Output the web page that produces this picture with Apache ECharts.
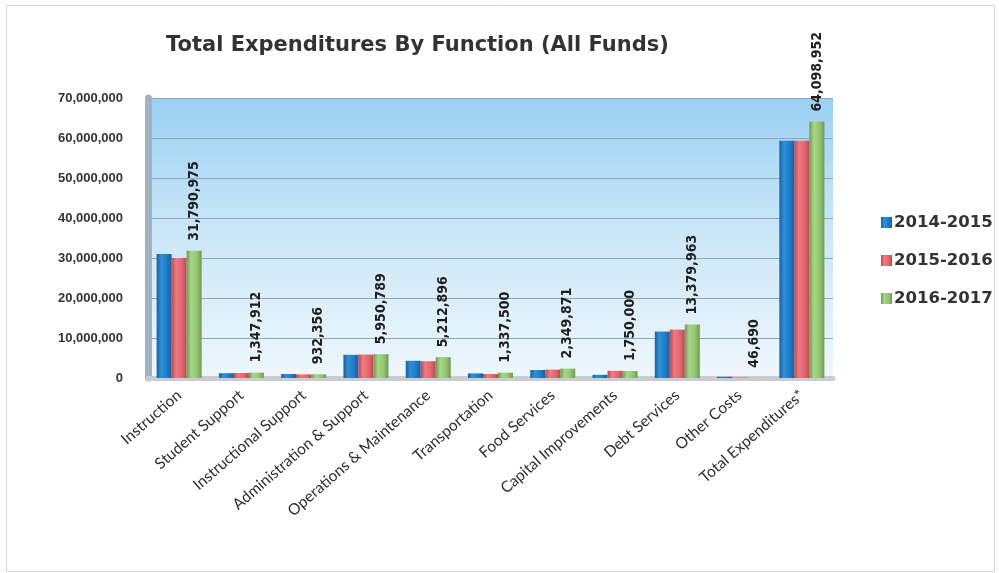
<!DOCTYPE html>
<html>
<head>
<meta charset="utf-8">
<script src="https://cdn.jsdelivr.net/npm/echarts@6/dist/echarts.min.js"></script>
<style>
  html, body { margin: 0; padding: 0; background: #ffffff; }
  #chart { width: 999px; height: 573px; }
</style>
</head>
<body>
<div id="chart"></div>
<script>
// Expenditure categories (x axis)
const categories = [
  'Instruction', 'Student Support', 'Instructional Support',
  'Administration & Support', 'Operations & Maintenance', 'Transportation',
  'Food Services', 'Capital Improvements', 'Debt Services', 'Other Costs',
  'Total Expenditures*'
];

// Spending per fiscal year
const fy2014 = [31000000, 1200000, 1000000, 5800000, 4300000, 1150000, 2000000, 800000, 11600000, 300000, 59300000];
const fy2015 = [30000000, 1250000, 900000, 5850000, 4200000, 1000000, 2100000, 1800000, 12100000, 120000, 59300000];
const fy2016 = [31790975, 1347912, 932356, 5950789, 5212896, 1337500, 2349871, 1750000, 13379963, 46690, 64098952];

const seriesNames = ['2014-2015', '2015-2016', '2016-2017'];
const yTicks = [0, 10000000, 20000000, 30000000, 40000000, 50000000, 60000000, 70000000];

const fmt = v => Number(v).toLocaleString('en-US');

// cylinder-like shading across each bar
function shade(light, mid, dark) {
  return new echarts.graphic.LinearGradient(0, 0, 1, 0, [
    { offset: 0, color: dark },
    { offset: 0.3, color: light },
    { offset: 0.7, color: mid },
    { offset: 1, color: dark }
  ]);
}

const chart = echarts.init(document.getElementById('chart'), null, { renderer: 'canvas' });

const barBase = {
  type: 'bar',
  barWidth: 15,
  barGap: '0%',
  barCategoryGap: '28%'
};

chart.setOption({
  animation: false,
  title: {
    text: 'Total Expenditures By Function (All Funds)',
    left: 161,
    top: 30,
    textStyle: {
      fontFamily: 'DejaVu Sans',
      fontWeight: 'bold',
      fontSize: 21,
      color: '#333333'
    }
  },
  legend: {
    orient: 'vertical',
    left: 876,
    top: 209,
    itemGap: 21,
    itemWidth: 11,
    itemHeight: 11,
    icon: 'rect',
    textStyle: {
      fontFamily: 'DejaVu Sans',
      fontWeight: 'bold',
      fontSize: 16.5,
      color: '#333333',
      padding: [0, 0, 0, -3]
    },
    data: seriesNames
  },
  graphic: [
    {
      type: 'rect',
      left: 4, top: 3,
      shape: { width: 988, height: 566 },
      style: { fill: 'none', stroke: '#d6d6d6', lineWidth: 1 },
      silent: true
    }
  ],
  grid: {
    left: 148,
    right: 166,
    top: 98,
    bottom: 195,
    show: true,
    borderWidth: 0,
    backgroundColor: new echarts.graphic.LinearGradient(0, 0, 0, 1, [
      { offset: 0, color: '#9ad0f3' },
      { offset: 0.45, color: '#c8e6f7' },
      { offset: 1, color: '#eef7fc' }
    ])
  },
  xAxis: {
    type: 'category',
    data: categories,
    axisTick: { show: false },
    axisLine: { show: true, lineStyle: { color: '#c9cdd1', width: 5 } },
    axisLabel: {
      rotate: 41,
      interval: 0,
      margin: 15,
      fontFamily: 'Lato',
      fontSize: 15.5,
      color: '#2e2e2e'
    }
  },
  yAxis: {
    type: 'value',
    min: yTicks[0],
    max: yTicks[yTicks.length - 1],
    interval: 10000000,
    axisLine: { show: true, lineStyle: { color: '#9fb3c2', width: 7 } },
    axisTick: { show: false },
    splitLine: { lineStyle: { color: '#8ea6b8', width: 1.2 } },
    axisLabel: {
      margin: 25,
      fontFamily: 'Liberation Sans',
      fontWeight: 'bold',
      fontSize: 13,
      color: '#333333',
      formatter: v => fmt(v)
    }
  },
  series: [
    Object.assign({}, barBase, {
      name: seriesNames[0],
      data: fy2014,
      itemStyle: { color: shade('#2f8fd8', '#1f7bc6', '#17609e') }
    }),
    Object.assign({}, barBase, {
      name: seriesNames[1],
      data: fy2015,
      itemStyle: { color: shade('#f07a82', '#e2646e', '#b94a53') }
    }),
    Object.assign({}, barBase, {
      name: seriesNames[2],
      data: fy2016,
      itemStyle: { color: shade('#a8d68a', '#92c46e', '#6c9a4f') },
      label: {
        show: true,
        position: 'top',
        rotate: 90,
        align: 'left',
        verticalAlign: 'middle',
        distance: 10,
        fontFamily: "'DejaVu Sans Condensed', 'Liberation Sans', sans-serif",
        fontWeight: 'bold',
        fontSize: 14,
        color: '#1e1e1e',
        formatter: p => fmt(p.value)
      }
    })
  ]
});
</script>
</body>
</html>
